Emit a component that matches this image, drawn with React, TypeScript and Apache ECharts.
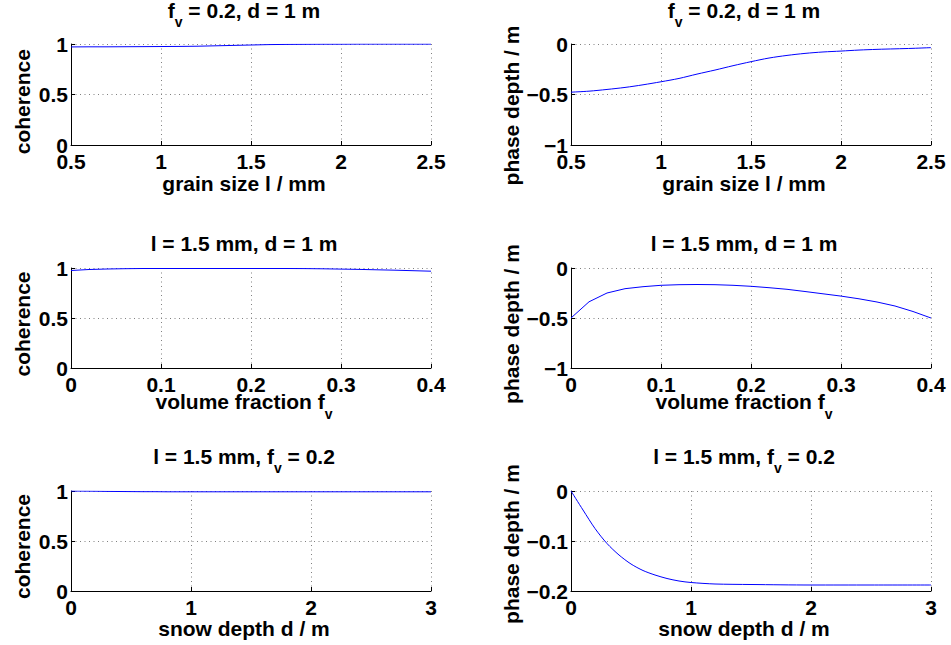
import React, { useEffect, useRef } from "react";
import * as echarts from "echarts";

// ---------- data ----------
const grainSize = [0.5, 0.6, 0.7, 0.8, 0.9, 1.0, 1.1, 1.2, 1.3, 1.4, 1.5, 1.6, 1.7, 1.8, 1.9, 2.0, 2.1, 2.2, 2.3, 2.4, 2.5];
const cohGrain = [0.971, 0.972, 0.972, 0.973, 0.974, 0.975, 0.976, 0.978, 0.982, 0.986, 0.990, 0.994, 0.996, 0.997, 0.998, 0.998, 0.999, 0.999, 0.999, 0.999, 0.999];
const phaseGrain = [-0.477, -0.467, -0.450, -0.430, -0.404, -0.374, -0.341, -0.298, -0.258, -0.215, -0.175, -0.139, -0.113, -0.093, -0.079, -0.070, -0.060, -0.053, -0.048, -0.043, -0.036];

const volFrac = [0, 0.02, 0.04, 0.06, 0.08, 0.1, 0.12, 0.14, 0.16, 0.18, 0.2, 0.22, 0.24, 0.26, 0.28, 0.3, 0.32, 0.34, 0.36, 0.38, 0.4];
const cohFrac = [0.975, 0.985, 0.99, 0.993, 0.995, 0.995, 0.995, 0.995, 0.995, 0.995, 0.995, 0.995, 0.995, 0.994, 0.992, 0.989, 0.986, 0.982, 0.978, 0.973, 0.968];
const phaseFrac = [-0.5, -0.338, -0.25, -0.207, -0.187, -0.173, -0.167, -0.165, -0.167, -0.173, -0.183, -0.197, -0.213, -0.235, -0.258, -0.281, -0.308, -0.340, -0.380, -0.435, -0.5];

const snowDepth = [0, 0.1, 0.2, 0.3, 0.4, 0.5, 0.6, 0.7, 0.8, 0.9, 1.0, 1.2, 1.5, 2.0, 2.5, 3.0];
const cohDepth = [1.0, 0.999, 0.998, 0.996, 0.995, 0.994, 0.993, 0.993, 0.992, 0.992, 0.992, 0.992, 0.992, 0.992, 0.992, 0.992];
const phaseDepth = [0, -0.038, -0.075, -0.105, -0.128, -0.146, -0.159, -0.168, -0.175, -0.18, -0.183, -0.186, -0.187, -0.188, -0.188, -0.188];

const titles = ["f_v = 0.2, d = 1 m", "f_v = 0.2, d = 1 m", "l = 1.5 mm, d = 1 m", "l = 1.5 mm, d = 1 m", "l = 1.5 mm, f_v = 0.2", "l = 1.5 mm, f_v = 0.2"];
const xLabels = ["grain size l / mm", "grain size l / mm", "volume fraction f_v", "volume fraction f_v", "snow depth d / m", "snow depth d / m"];
const yLabels = ["coherence", "phase depth / m", "coherence", "phase depth / m", "coherence", "phase depth / m"];
const xRanges = [[0.5, 2.5, 0.5], [0.5, 2.5, 0.5], [0, 0.4, 0.1], [0, 0.4, 0.1], [0, 3, 1], [0, 3, 1]];
const yRanges = [[0, 1, 0.5], [-1, 0, 0.5], [0, 1, 0.5], [-1, 0, 0.5], [0, 1, 0.5], [-0.2, 0, 0.1]];

// ---------- layout ----------
const FONT = '"Liberation Sans", Arial, Helvetica, sans-serif';
const FS = 21;
const GRIDS = [
  { left: 71, top: 44, width: 360, height: 101 },
  { left: 571, top: 44, width: 360, height: 101 },
  { left: 71, top: 268, width: 360, height: 100 },
  { left: 571, top: 268, width: 360, height: 100 },
  { left: 71, top: 491, width: 360, height: 100 },
  { left: 571, top: 491, width: 360, height: 100 },
];
// main-text centre positions
const TEXT_CX = [244, 744, 244, 744, 244, 744];
const TITLE_CY = [10, 10, 243.5, 243.5, 456, 456];
const XNAME_CY = [183, 183, 401.7, 401.7, 628, 628];
const YNAME_CX = [22.5, 511.3, 22.5, 511.3, 22.5, 511.3];
const YNAME_CY = [101.7, 105.5, 324, 324, 546.5, 544];
const MAIN_OFF = 2.5; // measured offset from anchor to main-text centre (rich text)

const toRich = (s: string) =>
  s
    .split(/_(\w)/)
    .map((p, i) => (i % 2 === 1 ? `{s|${p}}` : p ? `{m|${p}}` : ""))
    .join("");

const richStyles = {
  m: { fontSize: FS, fontWeight: "bold", fontFamily: FONT, color: "#000", lineHeight: 16, padding: [0, 0, 10.8, 0] },
  s: { fontSize: 14, fontWeight: "bold", fontFamily: FONT, color: "#000", lineHeight: 14, padding: [12.8, 0, 0, 0] },
};

const fmt = (v: number) => {
  const r = Math.round(v * 1000) / 1000;
  return String(r).replace("-", "\u2212");
};

// text centred at (x, y) of the main (non-subscript) glyphs
const textEl = (text: string, x: number, y: number, rotation = 0) => {
  const hasSub = text.indexOf("_") >= 0;
  if (hasSub) {
    return {
      type: "text",
      x,
      y: y - MAIN_OFF,
      rotation,
      silent: true,
      style: {
        text: toRich(text),
        rich: richStyles,
        align: "center",
        verticalAlign: "top",
        textAlign: "center",
        textVerticalAlign: "top",
      },
    };
  }
  return {
    type: "text",
    x,
    y,
    rotation,
    silent: true,
    style: {
      text,
      font: `bold ${FS}px ${FONT}`,
      fill: "#000",
      lineHeight: 16,
      align: "center",
      verticalAlign: "middle",
      textAlign: "center",
      textVerticalAlign: "middle",
    },
  };
};

export default function App() {
  const ref = useRef<HTMLDivElement>(null);
  useEffect(() => {
    if (!ref.current) return;
    const chart = echarts.init(ref.current, undefined, { renderer: "svg" });

    const grid = GRIDS.map((g) => ({ ...g, outerBoundsMode: "none", containLabel: false }));

    const seriesData = [
      [grainSize, cohGrain],
      [grainSize, phaseGrain],
      [volFrac, cohFrac],
      [volFrac, phaseFrac],
      [snowDepth, cohDepth],
      [snowDepth, phaseDepth],
    ];

    const gridLine = { show: true, lineStyle: { color: "#808080", type: [1, 3.5], width: 1 } };
    const axisLine = { show: true, onZero: false, lineStyle: { color: "#000", width: 1 } };
    const axisTick = { show: true, inside: true, length: 4, lineStyle: { color: "#000" } };
    const labelStyle = { color: "#000", fontSize: FS, fontWeight: "bold", fontFamily: FONT, lineHeight: 16 };

    const xAxis = xRanges.map((r, i) => ({
      type: "value",
      gridIndex: i,
      min: r[0],
      max: r[1],
      interval: r[2],
      axisLine,
      axisTick,
      splitLine: gridLine,
      axisLabel: { ...labelStyle, margin: 8, formatter: fmt, showMinLabel: true, showMaxLabel: true },
    }));

    const yAxis = yRanges.map((r, i) => ({
      type: "value",
      gridIndex: i,
      min: r[0],
      max: r[1],
      interval: r[2],
      axisLine,
      axisTick,
      splitLine: gridLine,
      axisLabel: { ...labelStyle, margin: 3, formatter: fmt, showMinLabel: true, showMaxLabel: true },
    }));

    const series = seriesData.map(([xs, ys], i) => ({
      type: "line",
      xAxisIndex: i,
      yAxisIndex: i,
      data: xs.map((x, k) => [x, ys[k]]),
      showSymbol: false,
      smooth: i === 1 || i === 5 ? 0.3 : false,
      lineStyle: { color: "#0000ff", width: 1 },
      itemStyle: { color: "#0000ff" },
      silent: true,
    }));

    const graphic = [
      ...titles.map((t, i) => textEl(t, TEXT_CX[i], TITLE_CY[i])),
      ...xLabels.map((t, i) => textEl(t, TEXT_CX[i], XNAME_CY[i])),
      ...yLabels.map((t, i) => textEl(t, YNAME_CX[i], YNAME_CY[i], Math.PI / 2)),
    ];

    chart.setOption({
      animation: false,
      backgroundColor: "#fff",
      grid,
      xAxis,
      yAxis,
      series,
      graphic,
    } as any);
    return () => chart.dispose();
  }, []);
  return <div ref={ref} style={{ position: "fixed", left: 0, top: 0, width: 951, height: 645 }} />;
}
